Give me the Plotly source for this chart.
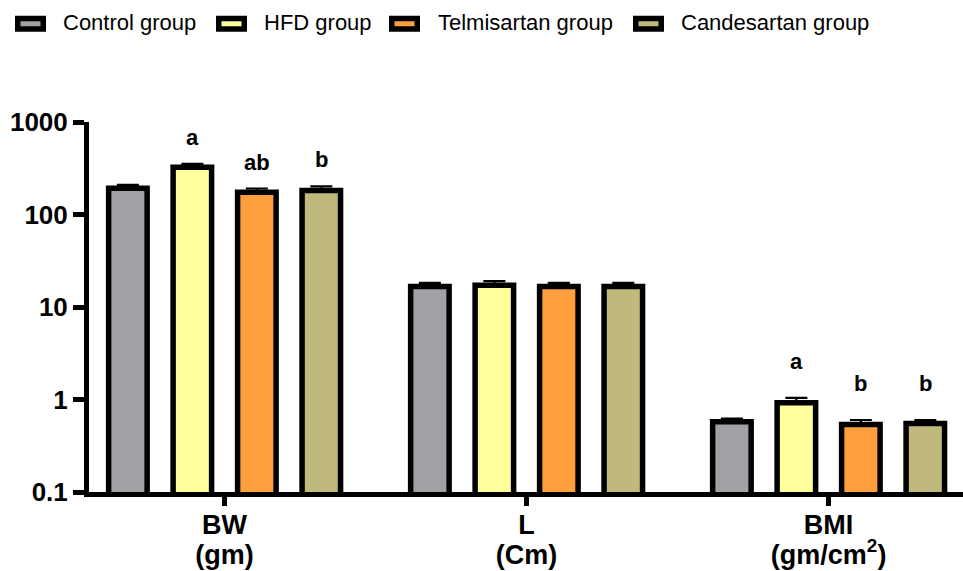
import plotly.graph_objects as go
import math

# ---- data -------------------------------------------------------------
measures = ["BW", "L", "BMI"]
measure_labels = ["BW<br>(gm)", "L<br>(Cm)", "BMI<br>(gm/cm<sup>2</sup>)"]
groups = ["Control group", "HFD group", "Telmisartan group", "Candesartan group"]

control_mean = [192, 16.7, 0.573]
hfd_mean = [324, 17.2, 0.92]
telmisartan_mean = [174, 16.7, 0.536]
candesartan_mean = [182, 16.7, 0.55]

control_err = [17, 1.5, 0.05]
hfd_err = [28, 1.8, 0.12]
telmisartan_err = [17, 1.5, 0.064]
candesartan_err = [19, 1.5, 0.05]

control_sig = ["", "", ""]
hfd_sig = ["a", "", "a"]
telmisartan_sig = ["ab", "", "b"]
candesartan_sig = ["b", "", "b"]

y_tickvals = [0.1, 1, 10, 100, 1000]
y_ticktext = ["0.1", "1", "10", "100", "1000"]

colors = ["#A1A0A5", "#FFFF9C", "#FF9E3D", "#C0B97D"]

# ---- layout constants -------------------------------------------------
W, H = 963, 571
ML, MR, MT, MB = 89, 0, 121.5, 79
PW, PH = W - ML - MR, H - MT - MB
BARGAP, BARGROUPGAP = 0.146, 0.403
FONT = "Liberation Sans, Arial, sans-serif"


def px_x(px):
    return (px - ML) / PW


def px_y(py):
    return (H - MB - py) / PH


means = [control_mean, hfd_mean, telmisartan_mean, candesartan_mean]
errs = [control_err, hfd_err, telmisartan_err, candesartan_err]
sigs = [control_sig, hfd_sig, telmisartan_sig, candesartan_sig]

fig = go.Figure()
for name, m, e, c in zip(groups, means, errs, colors):
    fig.add_trace(go.Bar(
        name=name, x=measures, y=m,
        marker=dict(color=c, line=dict(color="black", width=5.5)),
        error_y=dict(type="data", symmetric=False, array=e,
                     arrayminus=[0] * len(e), color="black",
                     thickness=2.2, width=11),
        showlegend=False,
    ))

# significance letters above the bars
slot = (1 - BARGAP) / len(groups)
letter_shift = [12, 12, 22]
annotations = []
for gi, (m, e, s) in enumerate(zip(means, errs, sigs)):
    for ci, letter in enumerate(s):
        if not letter:
            continue
        annotations.append(dict(
            x=ci + (gi - (len(groups) - 1) / 2) * slot,
            y=math.log10(m[ci] + e[ci]),
            xref="x", yref="y", text=letter, showarrow=False,
            yanchor="bottom", yshift=letter_shift[ci],
            font=dict(family=FONT, size=22, color="black", weight=700),
        ))

# legend row drawn at the top
legend_sym_x = [15, 216, 389, 633]
legend_txt_x = [62, 263, 437, 680]
shapes = []
for name, c, sx, tx in zip(groups, colors, legend_sym_x, legend_txt_x):
    shapes.append(dict(
        type="rect", xref="paper", yref="paper",
        x0=px_x(sx + 2.75), x1=px_x(sx + 31 - 2.75),
        y0=px_y(15 + 2.75), y1=px_y(31 - 2.75),
        fillcolor=c, line=dict(color="black", width=5.5),
    ))
    annotations.append(dict(
        x=px_x(tx - 1), y=px_y(21.5), xref="paper", yref="paper",
        text=name, showarrow=False, xanchor="left", yanchor="middle",
        font=dict(family=FONT, size=22, color="black"),
    ))

ticktext = [
    "<br>".join(f"<span style='font-size:27px'>{part}</span>"
                for part in lbl.split("<br>"))
    for lbl in measure_labels
]

fig.update_layout(
    width=W, height=H,
    margin=dict(l=ML, r=MR, t=MT, b=MB, pad=0),
    paper_bgcolor="white", plot_bgcolor="white",
    barmode="group", bargap=BARGAP, bargroupgap=BARGROUPGAP,
    font=dict(family=FONT, color="black"),
    annotations=annotations, shapes=shapes,
    xaxis=dict(
        type="category", range=[-0.449, 2.445],
        tickvals=measures, ticktext=ticktext,
        showline=True, linecolor="black", linewidth=5,
        ticks="outside", ticklen=9, tickwidth=4.5, tickcolor="black",
        tickfont=dict(family=FONT, size=23, color="black", weight=700),
        showgrid=False, zeroline=False,
    ),
    yaxis=dict(
        type="log", range=[-1, 3],
        tickvals=y_tickvals, ticktext=y_ticktext,
        showline=True, linecolor="black", linewidth=5,
        ticks="outside", ticklen=11, tickwidth=4.5, tickcolor="black",
        tickfont=dict(family=FONT, size=26, color="black", weight=700),
        showgrid=False, zeroline=False,
    ),
)

fig.write_html("out.html")
